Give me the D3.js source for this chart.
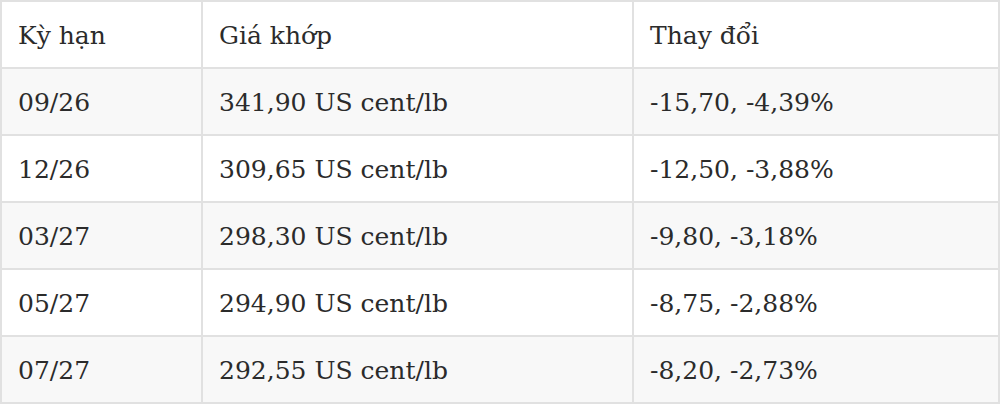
<!DOCTYPE html>
<html>
<head>
<meta charset="utf-8">
<script src="https://cdn.jsdelivr.net/npm/d3@7"></script>
<style>
  body { margin: 0; background: #fff; }
</style>
</head>
<body>
<svg id="table" width="1000" height="404"></svg>
<script>
// table data
var headers = ["Kỳ hạn", "Giá khớp", "Thay đổi"];
var terms = ["09/26", "12/26", "03/27", "05/27", "07/27"];
var prices = ["341,90", "309,65", "298,30", "294,90", "292,55"];
var changes = ["-15,70", "-12,50", "-9,80", "-8,75", "-8,20"];
var changePct = ["-4,39%", "-3,88%", "-3,18%", "-2,88%", "-2,73%"];
var unit = "US cent/lb";

var width = 1000, height = 404;
var colEdges = [1, 202, 633, 999];

var rows = terms.map(function (t, i) {
    return [t, prices[i] + " " + unit, changes[i] + ", " + changePct[i]];
});

var svg = d3.select("#table");

var yScale = d3.scaleBand()
    .domain(d3.range(rows.length + 1))
    .range([1, 403]);

var xScale = d3.scaleOrdinal()
    .domain(d3.range(colEdges.length))
    .range(colEdges);

// row backgrounds, header white then striped
svg.append("g")
    .selectAll("rect")
    .data(d3.range(rows.length + 1))
    .enter()
    .append("rect")
    .attr("x", xScale(0))
    .attr("y", function (d) { return yScale(d); })
    .attr("width", xScale(3) - xScale(0))
    .attr("height", yScale.bandwidth())
    .attr("fill", function (d) { return d % 2 === 1 ? "#f8f8f8" : "#ffffff"; });

// horizontal lines
svg.append("g")
    .selectAll("line")
    .data(d3.range(rows.length + 2))
    .enter()
    .append("line")
    .attr("x1", xScale(0))
    .attr("x2", xScale(3))
    .attr("y1", function (d) { return d > rows.length ? 403 : yScale(d); })
    .attr("y2", function (d) { return d > rows.length ? 403 : yScale(d); })
    .attr("stroke", "#e1e1e1")
    .attr("stroke-width", 2);

// vertical lines
svg.append("g")
    .selectAll("line")
    .data(d3.range(colEdges.length))
    .enter()
    .append("line")
    .attr("x1", function (d) { return xScale(d); })
    .attr("x2", function (d) { return xScale(d); })
    .attr("y1", 0)
    .attr("y2", height)
    .attr("stroke", "#e1e1e1")
    .attr("stroke-width", 2);

var allRows = [headers].concat(rows);

var rowG = svg.append("g")
    .selectAll("g")
    .data(allRows)
    .enter()
    .append("g")
    .attr("transform", function (d, i) {
        return "translate(0," + (yScale(i) + yScale.bandwidth() / 2) + ")";
    });

rowG.selectAll("text")
    .data(function (d) { return d; })
    .enter()
    .append("text")
    .attr("x", function (d, j) { return xScale(j) + 17; })
    .attr("y", 0)
    .attr("dy", "0.36em")
    .style("font-family", "'DejaVu Serif', serif")
    .style("font-size", "25px")
    .style("fill", "#2b2b2b")
    .text(function (d) { return d; });
</script>
</body>
</html>
